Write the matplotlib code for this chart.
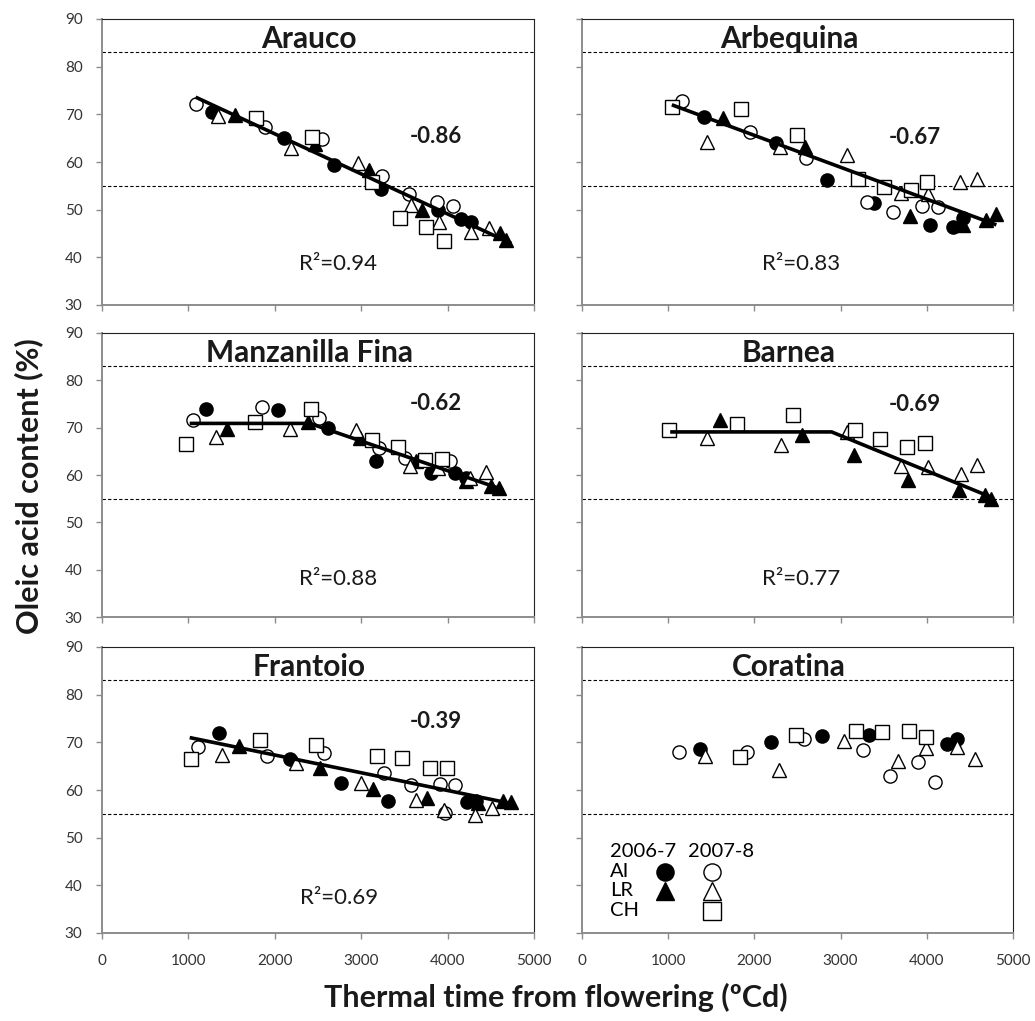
import numpy as np
import matplotlib
matplotlib.use('Agg')
from matplotlib import pyplot as plt

plt.rcParams['font.family'] = ['Lato', 'DejaVu Sans']

cultivars = ['Arauco', 'Arbequina', 'Manzanilla Fina', 'Barnea', 'Frantoio', 'Coratina']
slope_txt = ['-0.86', '-0.67', '-0.62', '-0.69', '-0.39', None]
slope_pos = [(3860, 65.3), (3860, 65.2), (3860, 75.1), (3860, 74.9), (3860, 74.4), None]
r2_txt = ['0.94', '0.83', '0.88', '0.77', '0.69', None]
r2_pos = [(2730, 38.6), (2540, 38.6), (2730, 38.1), (2540, 38.0), (2740, 37.3), None]
upper_limit = 83
lower_limit = 55

# each series: (thermal time, oleic acid %)
# Arauco
arauco_ai06 = ([1273, 2103, 2685, 3233, 3889, 4159, 4267], [70.4, 65.0, 59.4, 54.3, 49.9, 48.0, 47.5])
arauco_ai07 = ([1084, 1890, 2546, 3245, 3549, 3881, 4063], [72.1, 67.3, 64.8, 57.1, 53.3, 51.7, 50.8])
arauco_lr06 = ([1535, 2470, 3090, 3704, 4603, 4672], [69.9, 63.8, 58.3, 49.9, 45.0, 43.6])
arauco_lr07 = ([1343, 2191, 2963, 3573, 3900, 4275, 4479], [69.7, 62.9, 59.7, 51.0, 47.5, 45.4, 46.1])
arauco_ch07 = ([1786, 2434, 3129, 3445, 3754, 3954], [69.3, 65.3, 55.7, 48.2, 46.3, 43.5])
arauco_fit = ([1084, 4738], [73.6, 42.9])

# Arbequina
arbequina_ai06 = ([1421, 2251, 2838, 3386, 4035, 4305, 4421], [69.5, 63.9, 56.2, 51.5, 46.8, 46.4, 48.2])
arbequina_ai07 = ([1158, 1950, 2598, 3301, 3610, 3946, 4131], [72.9, 66.2, 60.8, 51.7, 49.6, 50.8, 50.6])
arbequina_lr06 = ([1641, 2587, 3803, 4421, 4691, 4799], [69.2, 63.2, 48.7, 46.8, 47.8, 49.1])
arbequina_lr07 = ([1448, 2297, 3069, 3699, 4015, 4390, 4583], [64.1, 63.2, 61.5, 53.6, 53.2, 55.9, 56.4])
arbequina_ch07 = ([1042, 1842, 2490, 3205, 3506, 3811, 4008], [71.6, 71.1, 65.7, 56.4, 54.8, 54.1, 55.9])
arbequina_fit = ([1042, 4807], [72.0, 46.8])

# Manzanilla Fina
manzanilla_ai06 = ([1200, 2037, 2616, 3167, 3812, 4090, 4217], [73.9, 73.7, 70.0, 63.0, 60.4, 60.4, 59.4])
manzanilla_ai07 = ([1053, 1852, 2512, 3206, 3503, 4024], [71.6, 74.3, 72.0, 65.7, 63.6, 62.9])
manzanilla_lr06 = ([1447, 2384, 2982, 3638, 4217, 4506, 4595], [69.7, 71.3, 67.8, 62.9, 58.7, 57.6, 57.3])
manzanilla_lr07 = ([1316, 2172, 2936, 3561, 3889, 4255, 4448], [68.1, 69.7, 69.5, 61.8, 61.5, 59.4, 60.6])
manzanilla_ch07 = ([968, 1767, 2415, 3129, 3426, 3735, 3939], [66.6, 71.3, 74.0, 67.4, 65.9, 63.2, 63.4])
manzanilla_fit = ([1015, 2404, 4641], [70.9, 70.9, 56.9])

# Barnea
barnea_lr06 = ([1602, 2548, 3154, 3784, 4374, 4672, 4749], [71.7, 68.5, 64.3, 59.0, 56.9, 55.7, 55.0])
barnea_lr07 = ([1448, 2305, 3069, 3695, 4015, 4402, 4583], [67.9, 66.4, 69.1, 62.0, 61.6, 60.2, 62.2])
barnea_ch07 = ([1004, 1803, 2452, 3166, 3456, 3776, 3977], [69.6, 70.7, 72.6, 69.6, 67.5, 66.0, 66.8])
barnea_fit = ([1023, 2896, 4749], [69.1, 69.1, 55.3])

# Frantoio
frantoio_ai06 = ([1354, 2180, 2763, 3311, 4228, 4333], [71.9, 66.5, 61.5, 57.7, 57.4, 57.7])
frantoio_ai07 = ([1111, 1910, 2569, 3264, 3573, 3908, 4090, 3966], [69.1, 67.2, 67.7, 63.5, 61.0, 61.2, 61.0, 55.1])
frantoio_lr06 = ([1586, 2519, 3137, 3765, 4352, 4641, 4738], [69.2, 64.7, 60.3, 58.4, 57.2, 57.7, 57.5])
frantoio_lr07 = ([1389, 2242, 3002, 3630, 3954, 4321, 4518], [67.3, 65.6, 61.5, 57.9, 55.8, 54.7, 56.3])
frantoio_ch07 = ([1026, 1825, 2481, 3183, 3476, 3792, 3993], [66.6, 70.4, 69.5, 67.2, 66.8, 64.7, 64.7])
frantoio_fit = ([1015, 4726], [71.0, 57.2])

# Coratina
coratina_ai06 = ([1371, 2193, 2780, 3332, 4239, 4351], [68.7, 70.0, 71.4, 71.5, 69.6, 70.7])
coratina_ai07 = ([1127, 1919, 2579, 3263, 3571, 3900, 4093], [67.9, 68.0, 70.7, 68.4, 62.9, 65.8, 61.7])
coratina_lr07 = ([1429, 2286, 3043, 3668, 3988, 4355, 4556], [67.2, 64.3, 70.3, 66.0, 68.8, 69.1, 66.6])
coratina_ch07 = ([1834, 2479, 3178, 3475, 3791, 3988], [67.0, 71.5, 72.4, 72.2, 72.4, 71.2])

empty = ([], [])
panels = [
	[arauco_ai06, arauco_ai07, arauco_lr06, arauco_lr07, arauco_ch07, arauco_fit],
	[arbequina_ai06, arbequina_ai07, arbequina_lr06, arbequina_lr07, arbequina_ch07, arbequina_fit],
	[manzanilla_ai06, manzanilla_ai07, manzanilla_lr06, manzanilla_lr07, manzanilla_ch07, manzanilla_fit],
	[empty, empty, barnea_lr06, barnea_lr07, barnea_ch07, barnea_fit],
	[frantoio_ai06, frantoio_ai07, frantoio_lr06, frantoio_lr07, frantoio_ch07, frantoio_fit],
	[coratina_ai06, coratina_ai07, empty, coratina_lr07, coratina_ch07, empty],
]

# marker, facecolor, size for AI06, AI07, LR06, LR07, CH07
styles = [('o', 'black', 9.5), ('o', 'white', 9.5), ('^', 'black', 10), ('^', 'white', 10), ('s', 'white', 9.5)]

W, H = 1035, 1021
cols = [(102, 534), (582, 1013)]
rows = [(19, 305), (333, 617), (647, 933)]
grey = '#8c8c8c'

fig = plt.figure(figsize=(W / 100, H / 100), dpi=100)

for i, name in enumerate(cultivars):
	r, c = i // 2, i % 2
	x0, x1 = cols[c]
	y0, y1 = rows[r]
	ax = fig.add_axes([x0 / W, 1 - y1 / H, (x1 - x0) / W, (y1 - y0) / H])
	series = panels[i]
	for (xs, ys), (m, fc, ms) in zip(series[:5], styles):
		ax.plot(xs, ys, linestyle='none', marker=m, markerfacecolor=fc,
				markeredgecolor='black', markersize=ms, markeredgewidth=1.0, zorder=3)
	fx, fy = series[5]
	ax.plot(fx, fy, color='black', linewidth=2.6, zorder=4, solid_capstyle='butt')

	ax.axhline(upper_limit, color='black', linewidth=0.8, linestyle=(0, (3, 2)), zorder=1)
	ax.axhline(lower_limit, color='black', linewidth=0.8, linestyle=(0, (3, 2)), zorder=1)

	ax.set_xlim(0, 5000)
	ax.set_ylim(30, 90)
	ax.set_xticks(np.arange(0, 5001, 1000))
	ax.set_yticks(np.arange(30, 91, 10))
	ax.tick_params(direction='out', length=4, width=1, color=grey, labelsize=11,
				   labelcolor='#333333')
	ax.tick_params(axis='y', pad=10)
	ax.tick_params(axis='x', pad=11)
	if c == 1:
		ax.set_yticklabels([])
	if r < 2:
		ax.set_xticklabels([])
	ax.spines['left'].set_color(grey)
	ax.spines['bottom'].set_color(grey)
	ax.spines['left'].set_linewidth(1.4)
	ax.spines['bottom'].set_linewidth(1.4)
	ax.spines['top'].set_color('#222222')
	ax.spines['right'].set_color('#222222')

	ax.text(0.48, 0.93, name, transform=ax.transAxes, ha='center', va='center',
			fontsize=21.5, fontweight='bold', color='#1a1a1a')
	if slope_txt[i] is not None:
		ax.text(slope_pos[i][0], slope_pos[i][1], slope_txt[i], ha='center', va='center',
				fontsize=16, fontweight='bold', color='#1a1a1a')
		ax.text(r2_pos[i][0], r2_pos[i][1], 'R²=' + r2_txt[i], ha='center', va='center',
				fontsize=16, color='#1a1a1a')

	if name == 'Coratina':
		# legend drawn as a small table of year columns and site rows
		ax.text(0.065, 0.285, '2006-7', transform=ax.transAxes, ha='left', va='center', fontsize=14.5)
		ax.text(0.246, 0.285, '2007-8', transform=ax.transAxes, ha='left', va='center', fontsize=14.5)
		rows_y = [0.215, 0.148, 0.077]
		for lab, yy in zip(['AI', 'LR', 'CH'], rows_y):
			ax.text(0.065, yy, lab, transform=ax.transAxes, ha='left', va='center', fontsize=14.5)
		leg = [(0.193, rows_y[0], styles[0]), (0.302, rows_y[0], styles[1]),
			   (0.193, rows_y[1], styles[2]), (0.302, rows_y[1], styles[3]),
			   (0.302, rows_y[2], styles[4])]
		for lx, ly, (m, fc, ms) in leg:
			ax.plot([lx], [ly], transform=ax.transAxes, marker=m, markerfacecolor=fc,
					markeredgecolor='black', markersize=ms * 1.3, markeredgewidth=1.0,
					linestyle='none', clip_on=False)

fig.text(29 / W, 1 - 486 / H, 'Oleic acid content (%)', rotation=90, ha='center', va='center',
		 fontsize=22, fontweight='bold', color='#1a1a1a')
fig.text(556 / W, 1 - 997 / H, 'Thermal time from flowering (ºCd)', ha='center', va='center',
		 fontsize=22, fontweight='bold', color='#1a1a1a')

fig.savefig('out.png', dpi=100, facecolor='white')
